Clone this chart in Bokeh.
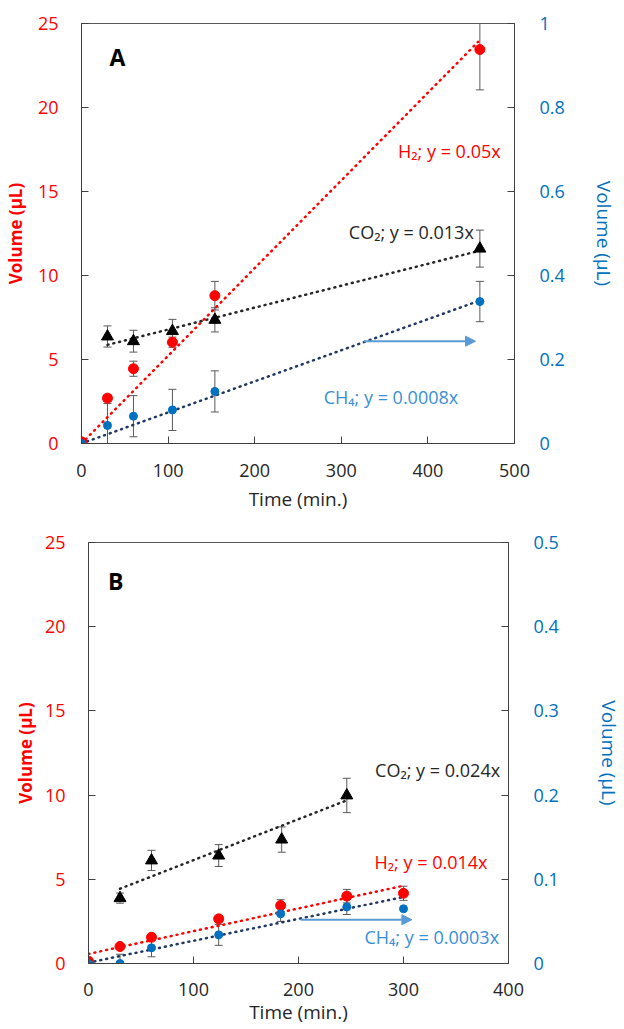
import numpy as np
from bokeh.plotting import figure
from bokeh.models import (Range1d, LinearAxis, Whisker, ColumnDataSource, Arrow,
                          NormalHead, TeeHead, SingleIntervalTicker, NumeralTickFormatter)
from bokeh.embed import file_html
from bokeh.resources import INLINE
from bokeh.core.properties import value

FONT = "Open Sans"
RED = "#ff0000"
BLUE = "#0070c0"
BLACK = "#000000"
NAVY = "#1f3864"
ARROW = "#5b9bd5"
AXIS = "#404040"
ERR = "#595959"
DARK = "#262626"
LBLUE = "#3a8fd6"

# ---------------- Panel A data ----------------
a_time_h2 = [0, 30, 60, 105, 154, 460]
a_h2 = [0.1, 2.7, 4.45, 6.03, 8.8, 23.45]
a_h2_err = [0, 0.2, 0.45, 0.3, 0.85, 2.4]
a_time_co2 = [30, 60, 105, 154, 460]
a_co2 = [6.37, 6.09, 6.69, 7.36, 11.6]
a_co2_err = [0.63, 0.65, 0.7, 0.72, 1.1]
a_time_ch4 = [0, 30, 60, 105, 154, 460]
a_ch4 = [0, 0.043, 0.065, 0.08, 0.124, 0.338]           # right axis
a_ch4_err = [0, 0.052, 0.049, 0.049, 0.049, 0.048]
# trend lines: (x start, x end, slope, intercept)
a_fit_h2 = (0, 458, 0.0522, 0.0)
a_fit_co2 = (30, 460, 0.01304, 5.48)
a_fit_ch4 = (0, 460, 0.00074, 0.0)                       # right axis
a_labels = ["H\u2082; y = 0.05x", "CO\u2082; y = 0.013x", "CH\u2084; y = 0.0008x"]
a_label_x = [484, 453, 435]
a_label_y = [17.44, 12.56, 2.76]
a_arrow = (326, 455, 6.09)
a_panel = ("A", 41.6, 23.0)

# ---------------- Panel B data ----------------
b_time_h2 = [0, 30, 60, 124, 183, 246, 300]
b_h2 = [0.14, 1.01, 1.56, 2.65, 3.44, 4.0, 4.17]
b_h2_err = [0, 0.1, 0.15, 0.2, 0.35, 0.4, 0.42]
b_time_co2 = [30, 60, 124, 184, 246]
b_co2 = [3.88, 6.12, 6.41, 7.36, 9.98]
b_co2_err = [0.3, 0.6, 0.65, 0.75, 1.02]
b_time_ch4 = [0, 30, 60, 124, 183, 246, 300]
b_ch4 = [0, 0, 0.0186, 0.034, 0.059, 0.0672, 0.065]      # right axis
b_ch4_err = [0, 0.011, 0.0106, 0.0124, 0.009, 0.009, 0]
b_fit_h2 = (0, 300, 0.0135, 0.57)
b_fit_co2 = (30, 246, 0.0243, 3.71)
b_fit_ch4 = (0, 300, 0.00026, 0.001)
b_labels = ["CO\u2082; y = 0.024x", "H\u2082; y = 0.014x", "CH\u2084; y = 0.0003x"]
b_label_x = [392, 380, 391]
b_label_y = [11.5, 6.02, 1.56]
b_arrow = (202, 308, 2.6)
b_panel = ("B", 26, 22.7)


def style_axis(ax, color, size="18px"):
    ax.axis_line_color = AXIS
    ax.major_tick_line_color = AXIS
    ax.minor_tick_line_color = None
    ax.major_tick_in = 7
    ax.major_tick_out = 0
    ax.major_label_text_font = FONT
    ax.major_label_text_font_size = size
    ax.major_label_text_color = color


def add_series(p, xs, ys, errs, color, marker, size, range_name="default"):
    src = ColumnDataSource(dict(x=xs, y=ys))
    xe = [x for x, e in zip(xs, errs) if e > 0]
    up = [y + e for y, e in zip(ys, errs) if e > 0]
    lo = [y - e for y, e in zip(ys, errs) if e > 0]
    esrc = ColumnDataSource(dict(x=xe, upper=up, lower=lo))
    w = Whisker(source=esrc, base="x", upper="upper", lower="lower",
                line_color=ERR, line_width=1,
                upper_head=TeeHead(size=8, line_color=ERR, line_width=1),
                lower_head=TeeHead(size=8, line_color=ERR, line_width=1),
                y_range_name=range_name)
    p.scatter("x", "y", source=src, marker=marker, size=size, fill_color=color,
              line_color=color, y_range_name=range_name)
    p.add_layout(w)


def add_fit(p, fit, color, range_name="default"):
    x0, x1, slope, icpt = fit
    xl = np.array([x0, x1], dtype=float)
    yl = slope * xl + icpt
    p.line(xl, yl, line_color=color, line_width=2.5, line_dash="1 5",
           line_cap="round", y_range_name=range_name)


def make_panel(width, height, borders, xmax, rmax, rstep, d, xlab_standoff,
               tick_standoff_x, lstand, rstand):
    p = figure(width=width, height=height, x_range=Range1d(0, xmax), y_range=Range1d(0, 25),
               output_backend="svg", toolbar_location=None,
               min_border_left=borders[0], min_border_right=borders[1],
               min_border_top=borders[2], min_border_bottom=borders[3])
    p.extra_y_ranges = {"right": Range1d(0, rmax)}
    p.xgrid.visible = False
    p.ygrid.visible = False
    p.outline_line_color = ERR
    p.outline_line_width = 1
    p.background_fill_color = "white"
    p.border_fill_color = "white"

    style_axis(p.xaxis[0], DARK)
    p.xaxis[0].ticker = SingleIntervalTicker(interval=100)
    p.xaxis[0].major_label_standoff = tick_standoff_x
    p.xaxis[0].axis_label = "Time (min.)"
    p.xaxis[0].axis_label_text_font = FONT
    p.xaxis[0].axis_label_text_font_size = "19px"
    p.xaxis[0].axis_label_text_font_style = "normal"
    p.xaxis[0].axis_label_text_color = DARK
    p.xaxis[0].axis_label_standoff = xlab_standoff

    style_axis(p.yaxis[0], RED)
    p.yaxis[0].ticker = SingleIntervalTicker(interval=5)
    p.yaxis[0].major_label_standoff = 19
    p.yaxis[0].axis_label = "Volume (\u00b5L)"
    p.yaxis[0].axis_label_text_font = FONT
    p.yaxis[0].axis_label_text_font_size = "17px"
    p.yaxis[0].axis_label_text_font_style = "bold"
    p.yaxis[0].axis_label_text_color = RED
    p.yaxis[0].axis_label_standoff = lstand

    ra = LinearAxis(y_range_name="right")
    style_axis(ra, BLUE)
    ra.ticker = SingleIntervalTicker(interval=rstep)
    ra.formatter = NumeralTickFormatter(format="0.[0]")
    ra.major_label_standoff = 21
    ra.axis_label = "Volume (\u00b5L)"
    ra.axis_label_text_font = FONT
    ra.axis_label_text_font_size = "19px"
    ra.axis_label_text_font_style = "normal"
    ra.axis_label_text_color = BLUE
    ra.axis_label_standoff = rstand
    p.add_layout(ra, "right")

    # trend lines
    add_fit(p, d["fit_h2"], RED)
    add_fit(p, d["fit_co2"], DARK)
    add_fit(p, d["fit_ch4"], NAVY, "right")

    # arrow
    x0, x1, ya = d["arrow"]
    p.add_layout(Arrow(x_start=x0, y_start=ya, x_end=x1, y_end=ya,
                       line_color=ARROW, line_width=2,
                       end=NormalHead(size=10, fill_color=ARROW, line_color=ARROW)))

    # series
    add_series(p, d["t_co2"], d["co2"], d["co2_err"], BLACK, "triangle", 12)
    add_series(p, d["t_h2"], d["h2"], d["h2_err"], RED, "circle", 10)
    add_series(p, d["t_ch4"], d["ch4"], d["ch4_err"], BLUE, "circle", 8, "right")

    # labels
    lsrc = ColumnDataSource(dict(x=d["lx"], y=d["ly"], text=d["labels"], c=d["lc"]))
    p.text("x", "y", text="text", source=lsrc, text_align="right", text_baseline="middle",
           text_font=value(FONT), text_font_size="18px", text_color="c")
    name, px, py = d["panel"]
    p.text(x=[px], y=[py], text=[name], text_align="center", text_baseline="middle",
           text_font=value(FONT), text_font_size="23px", text_font_style="bold",
           text_color="black")
    return p


dA = dict(t_h2=a_time_h2, h2=a_h2, h2_err=a_h2_err, t_co2=a_time_co2, co2=a_co2,
          co2_err=a_co2_err, t_ch4=a_time_ch4, ch4=a_ch4, ch4_err=a_ch4_err,
          fit_h2=a_fit_h2, fit_co2=a_fit_co2, fit_ch4=a_fit_ch4,
          labels=a_labels, lx=a_label_x, ly=a_label_y, lc=[RED, DARK, LBLUE],
          arrow=a_arrow, panel=a_panel)
dB = dict(t_h2=b_time_h2, h2=b_h2, h2_err=b_h2_err, t_co2=b_time_co2, co2=b_co2,
          co2_err=b_co2_err, t_ch4=b_time_ch4, ch4=b_ch4, ch4_err=b_ch4_err,
          fit_h2=b_fit_h2, fit_co2=b_fit_co2, fit_ch4=b_fit_ch4,
          labels=b_labels, lx=b_label_x, ly=b_label_y, lc=[DARK, RED, LBLUE],
          arrow=b_arrow, panel=b_panel)

# borders: (left, right, top, bottom)
pA = make_panel(624, 520, (81, 110, 23, 77), 500, 1.0, 0.2, dA, 6, 16, 8, 23)
pB = make_panel(624, 508, (88, 107, 22, 65), 400, 0.5, 0.1, dB, 0, 15, 5, 34)

open("out.html", "w").write(file_html([pA, pB], INLINE))
